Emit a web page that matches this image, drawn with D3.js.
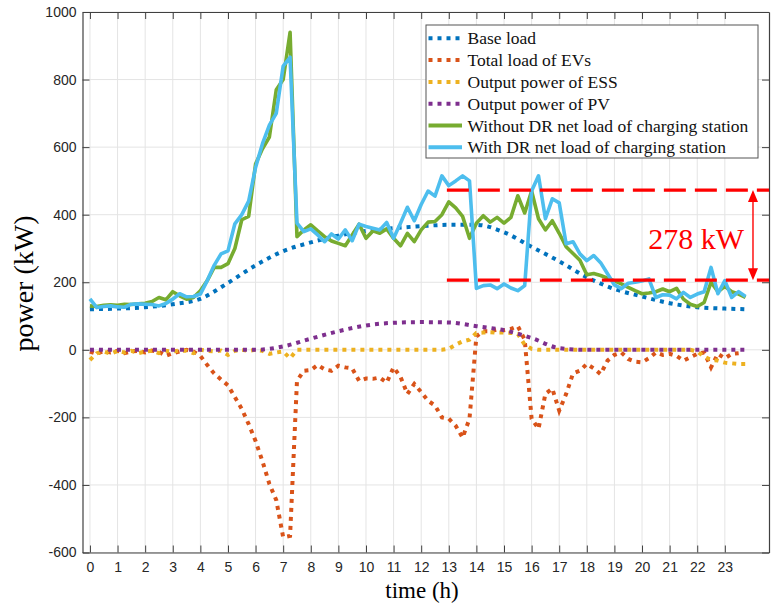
<!DOCTYPE html>
<html>
<head>
<meta charset="utf-8">
<script src="https://cdn.jsdelivr.net/npm/d3@7"></script>
<style>
  html, body { margin: 0; padding: 0; background: #ffffff; }
  svg { display: block; }
</style>
</head>
<body>
<svg id="chart" width="773" height="604"></svg>
<script>
// ---------------- DATA ----------------
const xTicks = [0,1,2,3,4,5,6,7,8,9,10,11,12,13,14,15,16,17,18,19,20,21,22,23];
const yTicks = [-600,-400,-200,0,200,400,600,800,1000];

// 15-minute time stamps (h) for the detailed series
const quarterHours = d3.range(96).map(i => i / 4);
// hourly time stamps (h) for the smooth series
const smoothHours = [0,1,2,3,4,5,6,7,8,9,10,11,12,13,14,15,16,17,18,19,20,21,22,23,23.75];

const baseLoad = [120,122,126,135,151,198,250,292,318,338,352,360,366,370,370,348,305,262,215,180,158,138,126,122,120];
const pvPower  = [0,0,0,0,0,0,0,10,33,55,72,80,82,81,70,58,35,5,0,0,0,0,0,0,0];

const evLoad = [
  -5,-12,-3,-8, -3,-10,-5,-3, -8,-2,-6,-18, -10,-5,0,-5,
  -18,-45,-70,-88, -105,-140,-175,-220, -270,-330,-397,-445, -555,-551,-92,-62,
  -60,-45,-58,-62, -47,-52,-55,-92, -85,-86,-82,-97, -52,-80,-131,-101,
  -125,-151,-165,-200, -204,-225,-260,-204, 40,55,55,60, 58,62,70,30,
  -204,-234,-130,-115, -180,-131,-70,-62, -42,-55,-72,-32, -15,-8,-27,-35,
  -37,-25,-8,-15, -12,-18,-32,-22, -12,-8,-52,-12, -25,-12,-10
];

const essPower = [
  -30,-10,-5,-12, -3,-8,-3,-10, -5,-3,-10,-3, -5,-2,-3,-10,
  0,-3,-5,-2, -15,-3,0,-3, 0,-3,-12,-8, -5,-25,0,0,
  0,0,0,0, 0,0,0,0, 0,0,0,0, 0,0,0,0,
  0,0,0,0, 3,15,25,30, 50,51,52,51, 51,50,47,15,
  3,0,0,0, 0,0,0,0, 0,0,0,0, 0,0,0,0,
  0,0,0,0, 0,0,0,0, -5,-20,-30,-32, -38,-40,-42,-42
];

const withoutDR = [
  130,128,132,133, 132,135,134,136, 138,143,155,148, 172,160,150,155,
  175,205,244,244, 255,300,385,395, 550,595,630,770, 800,940,335,355,
  370,352,335,322, 315,308,340,372, 330,352,345,358, 330,308,345,320,
  355,378,380,400, 438,420,395,330, 375,397,378,392, 375,392,456,405,
  470,388,355,382, 345,305,285,265, 222,226,220,212, 204,195,185,175,
  166,168,172,180, 172,182,150,135, 128,140,200,172, 188,172,165,155
];

const withDR = [
  151,125,128,130, 127,126,135,136, 135,134,130,137, 150,166,157,158,
  165,205,250,284, 293,373,400,440, 540,610,665,700, 840,866,375,350,
  358,340,320,343, 328,355,323,372, 365,360,355,377, 330,375,422,382,
  430,470,455,515, 486,500,515,500, 182,190,192,181, 195,183,175,190,
  470,515,388,447, 435,314,320,284, 264,279,258,225, 192,181,197,200,
  204,210,155,163, 162,151,170,155, 165,172,244,166, 205,155,172,158
];

// annotation levels (kW) and its label
const drLevels = [473, 206];
const drLabel = "278 kW";
const drStartHour = 12.93;
const drArrowHour = 24.02;

const legendLabels = [
  "Base load",
  "Total load of EVs",
  "Output power of ESS",
  "Output power of PV",
  "Without DR net load of charging station",
  "With DR net load of charging station"
];

// ---------------- DRAW ----------------
const svg = d3.select("#chart");
const L = 82.5, R = 769, T = 12, B = 552.5;

const x = d3.scaleLinear().domain([-0.27, 24.6]).range([L, R]);
const y = d3.scaleLinear().domain([-600, 1000]).range([B, T]);

const colors = {
  base: "#0072BD", ev: "#D95319", ess: "#EDB120", pv: "#7E2F8E",
  without: "#77AC30", with: "#4DBEEE"
};

// grid
const grid = svg.append("g");
grid.selectAll("line.vx").data(xTicks).join("line")
  .attr("x1", d => x(d)).attr("x2", d => x(d))
  .attr("y1", T).attr("y2", B)
  .attr("stroke", "#e4e4e4").attr("stroke-width", 1);
grid.selectAll("line.hy").data(yTicks).join("line")
  .attr("x1", L).attr("x2", R)
  .attr("y1", d => y(d)).attr("y2", d => y(d))
  .attr("stroke", "#e4e4e4").attr("stroke-width", 1);

// axes (MATLAB-like box with inward ticks)
const axColor = "#404040";
const fontTick = "'Liberation Sans', Arial, sans-serif";
const plain = d => String(d);

const xAxisB = d3.axisBottom(x).tickValues(xTicks).tickSizeInner(-7).tickSizeOuter(0).tickPadding(10).tickFormat(plain);
const gxb = svg.append("g").attr("transform", `translate(0,${B})`).call(xAxisB);
const xAxisT = d3.axisTop(x).tickValues(xTicks).tickSizeInner(-7).tickSizeOuter(0).tickFormat("");
const gxt = svg.append("g").attr("transform", `translate(0,${T})`).call(xAxisT);
const yAxisL = d3.axisLeft(y).tickValues(yTicks).tickSizeInner(-7).tickSizeOuter(0).tickPadding(6).tickFormat(plain);
const gyl = svg.append("g").attr("transform", `translate(${L},0)`).call(yAxisL);
const yAxisR = d3.axisRight(y).tickValues(yTicks).tickSizeInner(-7).tickSizeOuter(0).tickFormat("");
const gyr = svg.append("g").attr("transform", `translate(${R},0)`).call(yAxisR);

[gxb, gxt, gyl, gyr].forEach(g => {
  g.select(".domain").attr("stroke", axColor).attr("stroke-width", 1.2);
  g.selectAll(".tick line").attr("stroke", axColor).attr("stroke-width", 1);
  g.selectAll(".tick text").attr("fill", "#262626")
    .style("font-family", fontTick).style("font-size", "14px");
});

// series
svg.append("clipPath").attr("id", "clip")
  .append("rect").attr("x", L).attr("y", T).attr("width", R - L).attr("height", B - T);
const plot = svg.append("g").attr("clip-path", "url(#clip)");

const lineQ = d3.line().x((d, i) => x(quarterHours[i])).y(d => y(d));
const lineS = d3.line().x((d, i) => x(smoothHours[i])).y(d => y(d)).curve(d3.curveMonotoneX);

const dotted = { width: 4, dash: "4,5" };

plot.append("path").attr("d", lineS(baseLoad)).attr("fill", "none")
  .attr("stroke", colors.base).attr("stroke-width", dotted.width).attr("stroke-dasharray", dotted.dash);
plot.append("path").attr("d", lineQ(evLoad)).attr("fill", "none")
  .attr("stroke", colors.ev).attr("stroke-width", dotted.width).attr("stroke-dasharray", dotted.dash);
plot.append("path").attr("d", lineQ(essPower)).attr("fill", "none")
  .attr("stroke", colors.ess).attr("stroke-width", dotted.width).attr("stroke-dasharray", dotted.dash);
plot.append("path").attr("d", lineS(pvPower)).attr("fill", "none")
  .attr("stroke", colors.pv).attr("stroke-width", dotted.width).attr("stroke-dasharray", dotted.dash);
plot.append("path").attr("d", lineQ(withoutDR)).attr("fill", "none")
  .attr("stroke", colors.without).attr("stroke-width", 3.6).attr("stroke-linejoin", "round");
plot.append("path").attr("d", lineQ(withDR)).attr("fill", "none")
  .attr("stroke", colors.with).attr("stroke-width", 3.6).attr("stroke-linejoin", "round");

// red dashed annotation
const ann = svg.append("g");
drLevels.forEach(v => {
  ann.append("line").attr("x1", x(drStartHour)).attr("x2", R)
    .attr("y1", y(v)).attr("y2", y(v))
    .attr("stroke", "#ff0000").attr("stroke-width", 3.2).attr("stroke-dasharray", "22,9");
});
const ax = x(drArrowHour), ay1 = y(drLevels[0]), ay2 = y(drLevels[1]);
ann.append("line").attr("x1", ax).attr("x2", ax).attr("y1", ay1 + 10).attr("y2", ay2 - 10)
  .attr("stroke", "#ff0000").attr("stroke-width", 1.4);
ann.append("path").attr("d", `M${ax},${ay1} L${ax - 5},${ay1 + 12} L${ax + 5},${ay1 + 12} Z`).attr("fill", "#ff0000");
ann.append("path").attr("d", `M${ax},${ay2} L${ax - 5},${ay2 - 12} L${ax + 5},${ay2 - 12} Z`).attr("fill", "#ff0000");
ann.append("text").attr("x", 744).attr("y", 249).attr("text-anchor", "end")
  .attr("fill", "#ff0000").style("font-family", "'Liberation Serif', 'Times New Roman', serif")
  .style("font-size", "30px").text(drLabel);

// legend
const leg = svg.append("g");
leg.append("rect").attr("x", 426).attr("y", 25).attr("width", 332).attr("height", 133)
  .attr("fill", "#ffffff").attr("stroke", "#555555").attr("stroke-width", 1);
const legendStyles = [
  { c: colors.base, dash: dotted.dash, w: 4 },
  { c: colors.ev, dash: dotted.dash, w: 4 },
  { c: colors.ess, dash: dotted.dash, w: 4 },
  { c: colors.pv, dash: dotted.dash, w: 4 },
  { c: colors.without, dash: null, w: 4 },
  { c: colors.with, dash: null, w: 4 }
];
legendLabels.forEach((lab, i) => {
  const ly = 38.3 + i * 21.8;
  const st = legendStyles[i];
  const ln = leg.append("line").attr("x1", 428.5).attr("x2", 462).attr("y1", ly).attr("y2", ly)
    .attr("stroke", st.c).attr("stroke-width", st.w);
  if (st.dash) ln.attr("stroke-dasharray", st.dash);
  leg.append("text").attr("x", 467.5).attr("y", ly + 6).attr("fill", "#111")
    .style("font-family", "'Liberation Serif', 'Times New Roman', serif")
    .style("font-size", "17.5px").text(lab);
});

// axis titles
svg.append("text").attr("transform", "translate(33,283.5) rotate(-90)")
  .attr("text-anchor", "middle").attr("fill", "#000")
  .style("font-family", "'Liberation Serif', 'Times New Roman', serif")
  .style("font-size", "28px").text("power (kW)");
svg.append("text").attr("x", 422).attr("y", 598)
  .attr("text-anchor", "middle").attr("fill", "#000")
  .style("font-family", "'Liberation Serif', 'Times New Roman', serif")
  .style("font-size", "23px").text("time (h)");
</script>
</body>
</html>
